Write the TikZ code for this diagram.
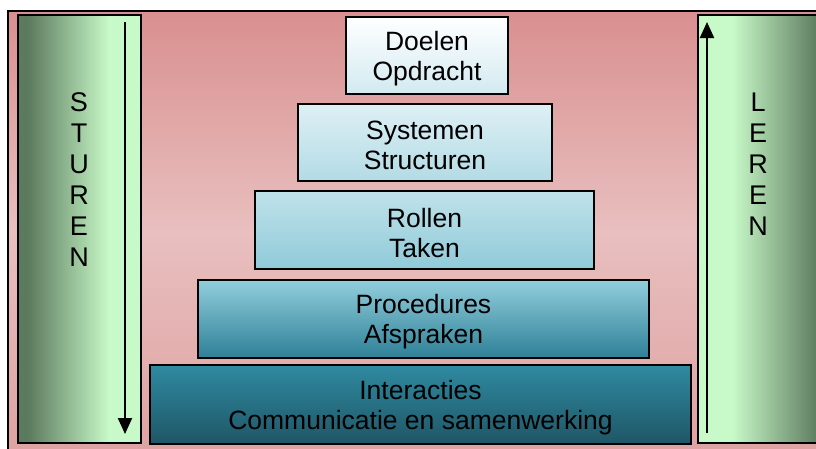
\documentclass[tikz,border=0pt]{standalone}
\usepackage{fontspec}
\setmainfont{Liberation Sans}
\usetikzlibrary{arrows.meta}
\definecolor{gdark}{HTML}{5C7A5E}
\definecolor{glight}{HTML}{C8F9C8}
\definecolor{pinktop}{HTML}{D98F8F}
\definecolor{pinkmid}{HTML}{E9BFBF}
\definecolor{pinkbot}{HTML}{DEA2A2}
\definecolor{aTop}{HTML}{FFFFFF}
\definecolor{aBot}{HTML}{D2EAF1}
\definecolor{bTop}{HTML}{DEF0F5}
\definecolor{bBot}{HTML}{B3DBE5}
\definecolor{cTop}{HTML}{C0E2EA}
\definecolor{cBot}{HTML}{8FCAD9}
\definecolor{dTop}{HTML}{92CEDC}
\definecolor{dBot}{HTML}{2E8098}
\definecolor{eTop}{HTML}{2F8AA1}
\definecolor{eBot}{HTML}{1F5666}
\pgfdeclarehorizontalshading{greenL}{100bp}{color(0bp)=(gdark); color(29bp)=(gdark); color(62bp)=(glight); color(100bp)=(glight)}
\pgfdeclarehorizontalshading{greenR}{100bp}{color(0bp)=(glight); color(38bp)=(glight); color(71bp)=(gdark); color(100bp)=(gdark)}
\tikzset{
  layer/.style={draw=black, line width=2pt, inner sep=0pt, anchor=north west},
  layertext/.style={align=center, font=\fontsize{26.5}{30}\selectfont, yshift=-3pt, inner sep=0pt},
  sidebar/.style={draw=black, line width=1.5pt},
  sideletters/.style={align=center, font=\fontsize{27}{31}\selectfont, anchor=north},
  flow/.style={line width=2pt, -{Triangle[length=16pt,width=14pt]}}
}
\begin{document}
\begin{tikzpicture}[x=1pt,y=-1pt]
\useasboundingbox (0,0) rectangle (816,448);
\fill[white] (0,0) rectangle (816,448);
% background frame
\draw[line width=1.2pt, top color=pinktop, bottom color=pinkbot, middle color=pinkmid] (8,11) rectangle (820,452);
% side bars
\path[shading=greenL, sidebar] (18,15) rectangle (141,443);
\path[shading=greenR, sidebar] (698,15) rectangle (830,443);
\node[sideletters] (sturen) at (79,89) {S\\T\\U\\R\\E\\N};
\node[sideletters] (leren) at (758,89) {L\\E\\R\\E\\N};
% arrows
\coordinate (s1) at (125,22);
\coordinate (s2) at (125,434);
\coordinate (l1) at (707,433);
\coordinate (l2) at (707,22);
\draw[flow] (s1) -- (s2);
\draw[flow] (l1) -- (l2);
% pyramid
\node[layer, minimum width=162pt, minimum height=77pt, top color=aTop, bottom color=aBot,
  label={[layertext]center:Doelen\\Opdracht}] (doelen) at (345,16) {};
\node[layer, minimum width=254pt, minimum height=77pt, top color=bTop, bottom color=bBot,
  label={[layertext]center:Systemen\\Structuren}] (systemen) at (297,103) {};
\node[layer, minimum width=339pt, minimum height=78pt, top color=cTop, bottom color=cBot,
  label={[layertext]center:Rollen\\Taken}] (rollen) at (254,190) {};
\node[layer, minimum width=451pt, minimum height=78pt, top color=dTop, bottom color=dBot,
  label={[layertext]center:Procedures\\Afspraken}] (procedures) at (197,279) {};
\node[layer, minimum width=541pt, minimum height=79pt, top color=eTop, bottom color=eBot,
  label={[layertext]center:Interacties\\Communicatie en samenwerking}] (interacties) at (149,364) {};
\end{tikzpicture}
\end{document}
